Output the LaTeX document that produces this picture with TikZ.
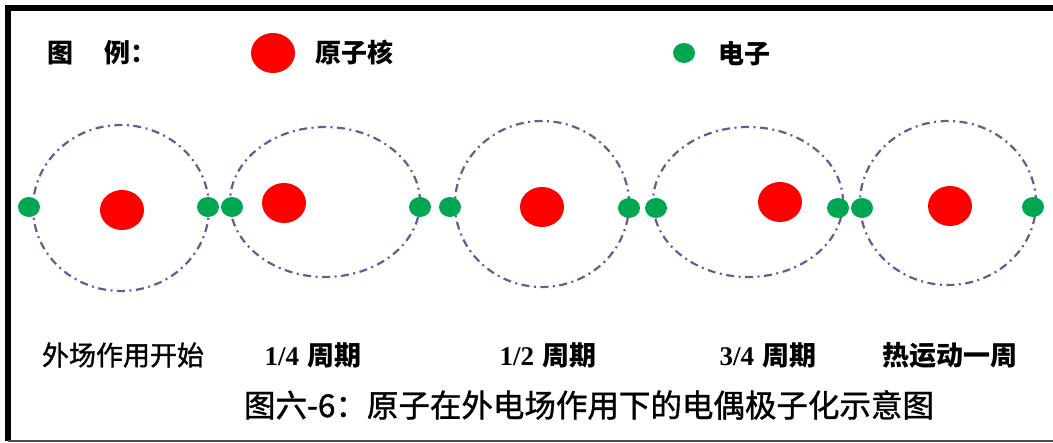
\documentclass[tikz,border=0pt]{standalone}
\usepackage{fontspec}
\newfontfamily\cjk{Noto Sans CJK SC}
\newfontfamily\cjkmed{Noto Sans CJK SC}[FakeBold=1.2]
\newfontfamily\latin{Liberation Serif}
\usetikzlibrary{shapes.geometric}

\definecolor{orbitpurple}{RGB}{108,88,150}
\definecolor{electrongreen}{RGB}{0,166,81}

\tikzstyle{orbit} = [draw=orbitpurple, ellipse, line width=2.2pt, inner sep=0pt,
    dash pattern=on 8pt off 4.5pt on 2pt off 4.5pt]
\tikzstyle{nucleus} = [fill=red, ellipse, inner sep=0pt,
    minimum width=44pt, minimum height=40pt]
\tikzstyle{electron} = [fill=electrongreen, ellipse, inner sep=0pt,
    minimum width=22pt, minimum height=20pt]
\tikzstyle{legendtext} = [inner sep=0pt, font=\cjk\bfseries\fontsize{26}{26}\selectfont]
\tikzstyle{phase} = [inner sep=0pt, font=\fontsize{27}{27}\selectfont]

\begin{document}
\begin{tikzpicture}[x=1pt, y=-1pt]
    \useasboundingbox (0,0) rectangle (1053,443);
    % frame
    \draw [line width=6pt] (8,441) -- (8,8) -- (1053,8);
    \draw [line width=1.2pt, black!70] (8,441) -- (1053,441);

    % legend
    \node [legendtext, anchor=west, name=legtitle] at (47,53) {图\hspace{1.2em}例：};
    \node [nucleus, name=legnuc] at (273,53) {};
    \node [legendtext, name=legnuctext] at (354,52) {原子核};
    \node [electron, name=legel] at (684,53) {};
    \node [legendtext, name=legeltext] at (744,54) {电子};

    % orbits
    \node [orbit, minimum width=176pt, minimum height=166pt, name=orbA] at (121,208) {};
    \node [orbit, minimum width=190pt, minimum height=150pt, name=orbB] at (325,202) {};
    \node [orbit, minimum width=174pt, minimum height=166pt, name=orbC] at (542,204) {};
    \node [orbit, minimum width=190pt, minimum height=150pt, name=orbD] at (748,202) {};
    \node [orbit, minimum width=176pt, minimum height=164pt, name=orbE] at (948,203) {};

    % nuclei
    \node [nucleus, name=nucA] at (122,210) {};
    \node [nucleus, name=nucB] at (284,203) {};
    \node [nucleus, name=nucC] at (542,207) {};
    \node [nucleus, name=nucD] at (780,202) {};
    \node [nucleus, name=nucE] at (950,206) {};

    % electrons
    \node [electron, name=elA1] at (29,207) {};
    \node [electron, name=elA2] at (208,207) {};
    \node [electron, name=elB1] at (232,207) {};
    \node [electron, name=elB2] at (420,207) {};
    \node [electron, name=elC1] at (450,207) {};
    \node [electron, name=elC2] at (629,208) {};
    \node [electron, name=elD1] at (656,208) {};
    \node [electron, name=elD2] at (838,208) {};
    \node [electron, name=elE1] at (862,208) {};
    \node [electron, name=elE2] at (1033,207) {};

    % phase labels
    \node [phase, name=phA] at (123,355) {\cjkmed 外场作用开始};
    \node [phase, name=phB] at (313,355) {{\latin\bfseries 1/4} {\cjk\bfseries 周期}};
    \node [phase, name=phC] at (548,355) {{\latin\bfseries 1/2} {\cjk\bfseries 周期}};
    \node [phase, name=phD] at (768,355) {{\latin\bfseries 3/4} {\cjk\bfseries 周期}};
    \node [phase, name=phE] at (950,355) {\cjk\bfseries 热运动一周};

    % caption
    \node [inner sep=0pt, font=\cjkmed\fontsize{31.5}{31.5}\selectfont, name=caption] at (589,405)
        {图六-6：原子在外电场作用下的电偶极子化示意图};
\end{tikzpicture}
\end{document}
